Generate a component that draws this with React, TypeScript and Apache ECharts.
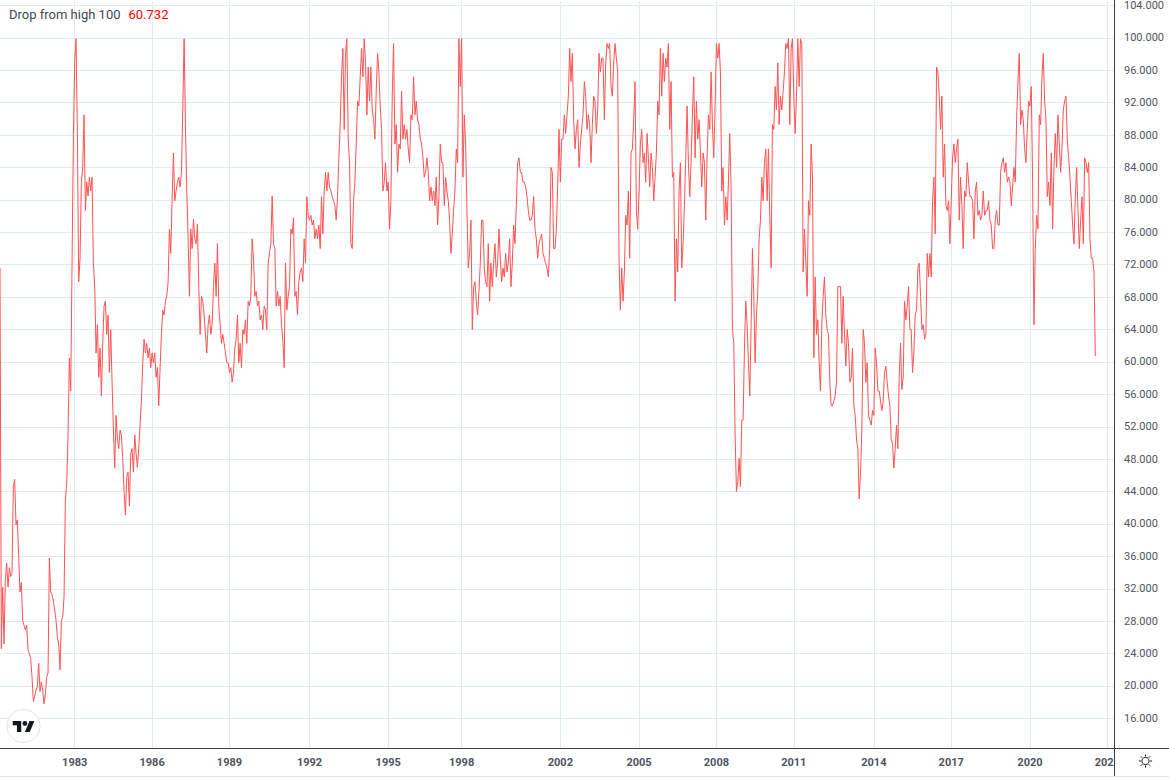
import React, { useEffect, useRef } from "react";
import * as echarts from "echarts";

// ---- Data: "Drop from high 100" values, equally spaced in time ----
const values1980to1992: number[] = [
  71.6, 24.6, 32.2, 25.2, 33, 35.2, 32.2, 34.6, 33.5, 34, 44.6, 45.5, 39.9, 40.5, 36, 31.6, 32.8, 28.1, 27.5, 26.9,
  27.5, 24.5, 24, 23.4, 21.1, 18.1, 18.7, 19.5, 19.9, 22.8, 19.3, 20.5, 19.5, 17.8, 19, 21.1, 21.6, 35.8, 31.6, 31.3,
  30.5, 29.3, 28.1, 26, 25.2, 22, 28, 28.5, 31, 43, 45, 51, 60.5, 56.4, 72, 88, 97, 99.9, 88, 69.9,
  72.8, 82.2, 84, 90.5,
  78.7, 82.2, 80.5, 82.8, 81.1, 82.8, 72.2, 69.3, 61.1, 64.6, 58.1, 61.7, 55.8, 62.3, 66.9, 67.5, 63.4, 65.8, 58.7, 64,
  57.5, 51.6, 46.9, 53.4, 50.5, 49.3, 51.6, 51, 48.1, 44, 41.1, 45.8, 46.4, 42.2, 48.7, 49.3, 46.4, 51, 48.7, 47,
  49.3, 52.2, 55.2, 59.9, 62.8, 61.1, 62.3, 60.5, 61.7, 59.3, 61.1, 59.9, 61.1, 58.1, 59.3, 54.6, 59.3, 63.4, 66.4, 65.8,
  67.5, 68.1, 69.9, 76.4, 73.4, 79.9, 85.8, 79.9, 81.1, 82.2, 82.8, 81.6, 83.4, 91.1, 99.9, 89.3, 81.1, 75.2, 68.1, 76.4,
  74, 77.6, 75.2, 74.6, 77, 69.3, 63.4, 68.1, 67.5, 65.8, 63.4, 61.1, 64.6, 65.8, 63.4, 64.6, 69.3, 72.2, 68.1, 74.6,
  66.9, 64.6, 62.3, 63.4, 62.3, 61.1, 59.9, 59.9, 58.7, 59.3, 57.5, 58.7, 61.7, 62.8, 65.8, 59.9, 62.3, 59.3, 64, 63.4,
  65.2, 62.3, 67.5, 66.9, 68.1, 75.2, 72.8, 68.1, 68.7, 66.9, 67.5, 65.2, 65.8, 64, 66.9, 66.4, 64, 72.2, 73.4, 74.6,
  80.5, 74.6, 74, 66.9, 68.7, 66.9,
];

const values1992to2002: number[] = [
  68.1, 64.6, 62.8, 59.3, 72.2, 66.4, 68.1, 69.3, 76.4, 75.8, 77.8, 68.1, 68.7, 65.8, 69.9, 71.1, 71.6, 69.9, 75.2, 72.2,
  80.4, 78.1, 77.5, 78.1, 76.9, 77.5, 75.2, 76.4, 75.2, 76.9, 74, 80.4, 75.8, 81.1, 83.4, 81.1, 83.4, 81.6, 81.1, 80.4,
  79.9, 79.3, 77.5, 80.4, 85.2, 89.3, 95.2, 98.7, 88.7, 98.1, 99.9, 87.5, 84.6, 74.6, 74, 79.9, 82.2, 86.9, 92.2, 91.6,
  95.2, 98.7, 95.2, 99.9, 97, 90.5, 96.4, 92.2, 96.4, 91.1, 89.9, 87.5, 93.4, 98.1, 95.8, 91.6, 88.7, 81.1, 82.2, 84.6,
  81.1, 82.2, 76.4, 79.9, 92.8, 99.3, 86.9, 89.3, 83.4, 86.9, 86.3, 93.4, 87.5, 89.3, 87.5, 88.7, 86.3, 84.6, 90.5, 89.9,
  95.2, 90.5, 92.2, 89.9, 89.3, 87.5, 86.9, 85.2, 82.8, 83.4, 85.2, 83.4, 79.9, 81.6, 79.9, 81.1, 79.3, 82.8, 76.9, 80.4,
  86.9, 84.6, 84.6, 79.3, 82.8, 81.1, 79.9, 77.5, 73.4, 75.8, 78.7, 81.1, 86.3, 84.6,
  99.9, 94, 99.9, 82.8, 90.5, 86.9, 78.7, 71.6, 73.4, 77.5, 64, 69.3, 69.9, 67.5, 65.8, 68.7, 72.2, 77.5, 77.5, 71.6,
  69.9, 69.3, 74.6, 67.5, 72.2, 69.3, 72.2, 74.6, 70.5, 72.2, 76.4, 72.8, 69.9, 71.6, 70.5, 73.4, 71.1, 72.2, 75.2, 69.3,
  72.2, 76.9, 74.6, 79.3, 84.6, 85.2, 83.4, 83.4, 82.2, 82.2, 81.6, 80.4, 78.7, 77.5, 77.5, 78.1, 80.4, 76.4, 75.2, 72.8,
  74.6, 75.2, 75.8, 73.4, 72.8, 72.2, 71.6, 70.5, 74, 84, 83.4, 74,
];

const values2002to2012: number[] = [
  74, 76.4, 81.6, 88.7, 82.2, 87.5, 87.5, 90.5, 88.2, 90.5, 92.8, 98.7, 94.6, 98.1, 89.9, 86.3, 88.7, 89.9, 84, 86.9,
  88.7, 90.5, 94.6, 92.8, 88.7, 90.5, 89.3, 84.6, 89.3, 92.8, 92.2, 88.2, 91.1, 98.1, 95.8, 97.5, 97.5, 89.9, 96.9, 99.3,
  98.7, 99.3, 94, 92.8, 96.9, 99.3, 97.5, 95.8,
  72.8, 66.4, 71.6, 67.5, 71.1, 78.1, 76.9, 81.1, 72.8, 85.8, 86.3, 89.9, 94.6, 78.7,
  76.4, 81.1, 86.9, 88.7, 84.6, 85.8, 82.2, 88.2, 85.2, 81.6, 85.8, 84, 79.9, 82.8, 85.8, 92.2, 90.5, 98.7, 92.8, 98.1,
  94.6, 97.5, 96.4, 99.3, 88.7, 94.6, 82.8, 83.4, 67.5, 75.2, 71.1, 81.1, 84.6, 71.6, 74.6, 79.3, 85.2, 91.6, 84.6, 80.4,
  84.6, 90.5, 95.2, 85.2, 92.2, 87.5, 89.9, 85.8, 81.6, 85.8, 84.6, 77.5, 85.2, 90.5, 88.7, 95.8, 89.3, 85.2, 91.6, 99.3,
  97.5, 99.3, 95.8,
  81.1, 84, 76.9, 80.4, 77.5, 82.2, 88.2, 81.6,
  64, 62.3,
  51.1, 44, 45.2, 48.1, 44.6, 52.8, 52.8, 61.7, 67.5, 64.6, 59.9, 55.8, 64.6, 74, 68.1, 59.9, 65.8, 68.7, 75.2, 77.5,
  82.8, 79.9, 84.6, 86.3, 79.9, 86.3, 78.1, 71.6, 89.3, 88.7, 94, 91.1, 96.9, 89.3, 92.8, 91.1, 93.4, 95.8, 99.3, 98.7,
  99.9, 89.3, 98.7, 99.9, 92.8, 88.2, 92.8, 99.9, 94, 99.9, 99.3, 71.1, 76.4, 72.2, 68.1, 79.9, 78.1, 86.9, 82.8, 60.5,
  70.5, 63.4, 65.2, 59.9, 56.4, 64.6, 68.1, 70.5, 65.8, 64, 63.4, 57.5,
];

const values2012to2022: number[] = [
  54.6, 54.6, 55.2, 55.8, 57.5,
  69.3, 69.3, 69.3, 62.3, 68.1, 63.4, 59.5, 64, 62.3, 57.5, 58.1, 61.7, 54.6, 53.4, 50.5, 49.3, 43.1, 46.4, 51.6, 64,
  62.3, 57.5, 59.9, 53.4, 52.8, 52.2, 54, 53.4, 61.7, 59.9, 56.4, 56.4, 55.2, 54, 55.2, 58.7, 59.5, 57.5, 55.8, 54.6,
  50.5, 49.9, 46.9, 49.3, 52.2, 49.3, 58.1, 62.3, 56.6, 58.1, 67.5, 65.2, 66.9, 69.3, 64, 64, 58.7, 61.1, 65.8, 66.4,
  71.6, 72.2, 68.1, 64, 64.6, 62.8, 63.4, 73.4, 70.5, 73.4, 70.5, 79.9, 82.8, 75.8,
  96.4, 95.8, 92.8, 88.7, 92.8, 82.8, 86.9, 79.3, 78.7, 79.9, 74.6, 79.9, 85.2, 86.9, 84.6, 86.3, 87.5, 77.5, 82.8, 79.3,
  74, 81.1, 80.4, 84.6, 82.2, 80.4, 80.4, 79.9, 75.2, 81.1, 82.2, 78.1, 78.7, 77.5, 78.1, 81.1, 78.1, 78.7, 78.7, 79.9,
  77.5, 76.9, 74, 74, 77.5, 78.7, 76.9, 76.9,
  83.4, 84.6, 85.2, 83.4, 84.6, 82.2, 82.8, 82.2, 79.3, 81.6, 84, 82.2,
  89.9, 94.6, 98.1, 89.3, 91.1, 89.9, 86.3, 84.6, 88.7, 92.2, 91.6, 94, 82.2,
  64.6, 74, 78.1, 76.4, 90.5, 89.3, 95.2, 98.1, 92.2, 89.9, 80.4, 82.2, 79.3, 85.8, 76.4, 84, 88.2, 84, 90.5, 86.9,
  83.4, 86.3, 91.1, 92.2, 92.8, 87.5, 85.2, 82.8, 79.9, 76.9, 74.6, 80.4, 84, 78.7, 74, 77.5, 80.4, 74.6, 85.2, 84.6,
  83.4, 84.6, 75.2, 72.8, 72.8, 71.1,
  60.732,
];

const lastValue = "60.732";
const seriesName = "Drop from high 100";

// x-axis year labels and the bar index where each one sits
const yearLabels = ["1983", "1986", "1989", "1992", "1995", "1998", "2002", "2005", "2008", "2011", "2014", "2017", "2020", "2023"];
const yearTickIndex = [56, 114, 172, 232, 291, 346, 420, 479, 537, 595, 655, 713, 772, 830];
const emptyBarsAtRight = 14;

// y-axis range and tick step
const yMin = 12;
const yMax = 104.617;
const yStep = 4;

const allValues = [...values1980to1992, ...values1992to2002, ...values2002to2012, ...values2012to2022];

const TV_LOGO_D =
  "M14 22H7V11H0V4h14v18zM28 22h-8l7.5-18h8L28 22zM24 8a4 4 0 1 1-8 0a4 4 0 1 1 8 0z";
try {
  echarts.graphic.registerShape("tvlogo", echarts.graphic.extendPath(TV_LOGO_D, {}) as any);
} catch (e) {
  // ignore
}

const FONT = "Roboto, 'Noto Sans', sans-serif";

export default function App() {
  const ref = useRef<HTMLDivElement>(null);

  useEffect(() => {
    if (!ref.current) return;
    const chart = echarts.init(ref.current, undefined, { renderer: "svg" });
    const total = allValues.length + emptyBarsAtRight;
    const categories = Array.from({ length: total }, (_, i) => String(i));
    const tickMap = new Map<number, string>();
    yearTickIndex.forEach((idx, k) => tickMap.set(idx, yearLabels[k]));

    const sunRays: any[] = [];
    const cx = 1145.5;
    const cy = 761;
    for (let k = 0; k < 8; k++) {
      const a = (Math.PI / 4) * k;
      sunRays.push({
        type: "line",
        z: 12,
        shape: {
          x1: cx + Math.cos(a) * 4.6,
          y1: cy + Math.sin(a) * 4.6,
          x2: cx + Math.cos(a) * 6.6,
          y2: cy + Math.sin(a) * 6.6,
        },
        style: { stroke: "#131722", lineWidth: 1 },
      });
    }

    chart.setOption({
      animation: false,
      backgroundColor: "#ffffff",
      title: {
        left: 9,
        top: 8,
        padding: 0,
        text: `{n|${seriesName}}{v|${lastValue}}`,
        textStyle: {
          fontFamily: FONT,
          fontSize: 13,
          fontWeight: "normal",
          rich: {
            n: { fontFamily: FONT, fontSize: 13, color: "#434651" },
            v: { fontFamily: FONT, fontSize: 13, color: "#ff0000", padding: [0, 0, 0, 8] },
          },
        },
      },
      grid: { left: 0, right: 55, top: 0, bottom: 29.2, containLabel: false },
      xAxis: {
        type: "category",
        data: categories,
        boundaryGap: false,
        axisLine: { show: false },
        axisTick: { show: false },
        axisLabel: {
          interval: (i: number) => tickMap.has(i),
          formatter: (_v: string, i: number) => tickMap.get(i) ?? "",
          color: "#50535e",
          fontFamily: FONT,
          fontSize: 11,
          fontWeight: "bold",
          margin: 6,
          hideOverlap: false,
        },
        splitLine: {
          show: true,
          interval: (i: number) => tickMap.has(i),
          lineStyle: { color: "#e1ecf2", width: 1 },
        },
      },
      yAxis: {
        type: "value",
        position: "right",
        min: yMin,
        max: yMax,
        interval: yStep,
        axisLine: { show: false },
        axisTick: { show: false },
        axisLabel: {
          showMinLabel: false,
          showMaxLabel: false,
          formatter: (v: number) => (Math.abs(v / yStep - Math.round(v / yStep)) < 1e-6 ? v.toFixed(3) : ""),
          color: "#50535e",
          fontFamily: FONT,
          fontSize: 11,
          margin: 10,
        },
        splitLine: { show: true, lineStyle: { color: "#e1ecf2", width: 1 } },
      },
      series: [
        {
          name: seriesName,
          type: "line",
          data: allValues,
          symbol: "none",
          showSymbol: false,
          lineStyle: { color: "#ff5252", width: 1 },
          z: 3,
        },
      ],
      graphic: [
        { type: "rect", z: 10, shape: { x: 0, y: 748.5, width: 1114, height: 6 }, style: { fill: "#ffffff" } },
        { type: "rect", z: 10, shape: { x: 1115, y: 749, width: 54, height: 27 }, style: { fill: "#ffffff" } },
        { type: "rect", z: 10, shape: { x: 0, y: 0, width: 1114, height: 1.5 }, style: { fill: "#ffffff" } },
        { type: "line", z: 11, shape: { x1: 0, y1: 748.5, x2: 1169, y2: 748.5 }, style: { stroke: "#3a3d46", lineWidth: 1 } },
        { type: "line", z: 11, shape: { x1: 1114.5, y1: 0, x2: 1114.5, y2: 776 }, style: { stroke: "#3a3d46", lineWidth: 1 } },
        { type: "line", z: 11, shape: { x1: 0, y1: 776.5, x2: 1169, y2: 776.5 }, style: { stroke: "#e0e3eb", lineWidth: 1 } },
        {
          type: "circle",
          z: 11,
          shape: { cx: 23.5, cy: 726, r: 16.5 },
          style: { fill: "#ffffff", stroke: "#e0e3eb", lineWidth: 1 },
        },
        {
          type: "tvlogo",
          z: 12,
          x: 12.7,
          y: 718.6,
          scaleX: 0.61,
          scaleY: 0.61,
          style: { fill: "#131722" },
        },
        {
          type: "circle",
          z: 12,
          shape: { cx, cy, r: 3.6 },
          style: { fill: "#ffffff", stroke: "#131722", lineWidth: 1 },
        },
        ...sunRays,
      ],
    });
    return () => chart.dispose();
  }, []);

  return (
    <div
      ref={ref}
      style={{ position: "absolute", left: 0, top: 0, width: 1169, height: 780, background: "#fff" }}
    />
  );
}
